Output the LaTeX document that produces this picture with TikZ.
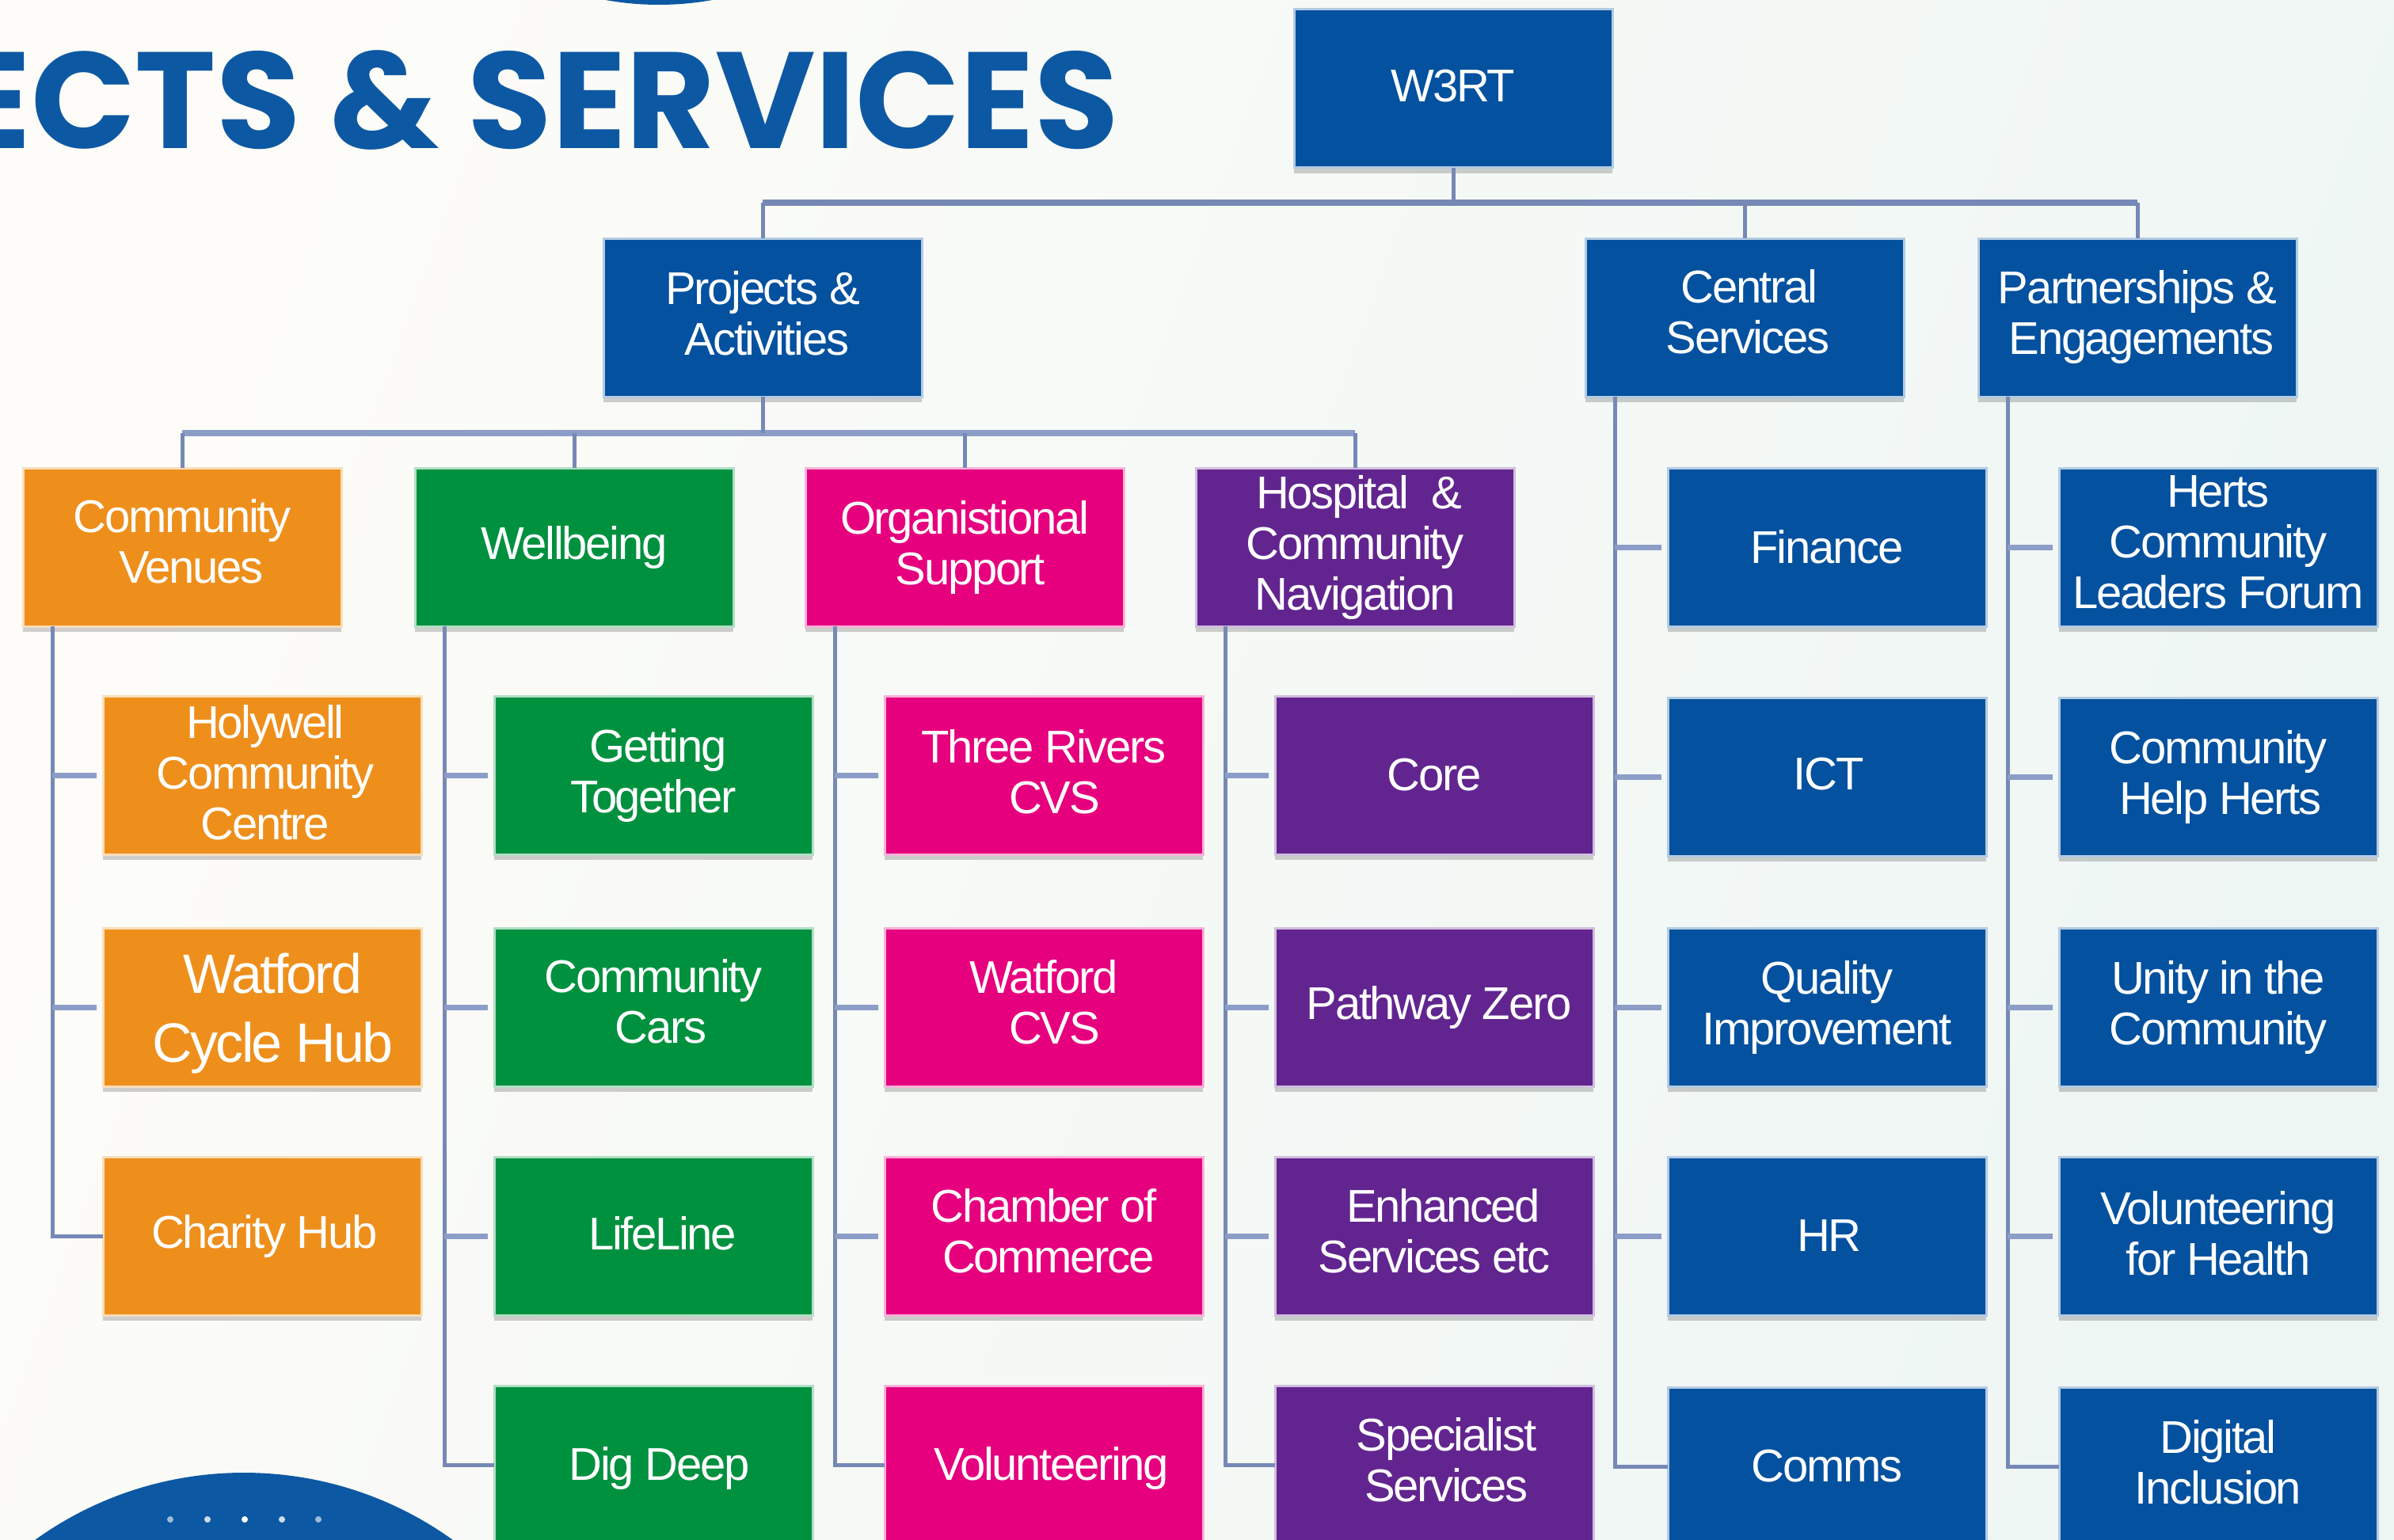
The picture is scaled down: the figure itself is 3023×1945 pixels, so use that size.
\documentclass[tikz,border=0pt]{standalone}
\usepackage{fontspec}
\setmainfont{Liberation Sans}[LetterSpace=-4]
\newfontfamily\titlefont{Poppins}
\usetikzlibrary{shadows}

\definecolor{titleblue}{HTML}{0D58A3}
\definecolor{boxblue}{HTML}{03519F}
\definecolor{boxorange}{HTML}{EE8F1C}
\definecolor{boxgreen}{HTML}{00913F}
\definecolor{boxpink}{HTML}{E6007E}
\definecolor{boxpurple}{HTML}{62258F}
\definecolor{linkblue}{HTML}{7688B5}
\definecolor{branchblue}{HTML}{8C9DC8}
\definecolor{pagewarm}{HTML}{FDFCF8}
\definecolor{pagecool}{HTML}{EEF6F4}

\newcommand{\nudge}[1]{\hspace*{#1pt}}

\tikzset{
  box/.style={rectangle, minimum width=402, minimum height=200, inner sep=0, outer sep=0,
    align=center, text=white, line width=3pt, font=\fontsize{58}{64}\selectfont,
    drop shadow={shadow xshift=0pt, shadow yshift=-7pt, opacity=0.18, fill=black}},
  bluebox/.style={box, fill=boxblue, draw=boxblue!30!white},
  orangebox/.style={box, fill=boxorange, draw=boxorange!30!white},
  greenbox/.style={box, fill=boxgreen, draw=boxgreen!30!white},
  pinkbox/.style={box, fill=boxpink, draw=boxpink!30!white},
  purplebox/.style={box, fill=boxpurple, draw=boxpurple!30!white},
  up/.style={execute at end node={\rule[-#1pt]{0pt}{#1pt}}},
  down/.style={execute at begin node={\rule{0pt}{#1pt}}},
  link/.style={draw=linkblue, line width=5pt},
  bus/.style={draw=linkblue, line width=8pt},
  branch/.style={draw=branchblue, line width=7pt, shorten >=8pt}
}

\begin{document}
\begin{tikzpicture}[x=1pt, y=-1pt]
  \useasboundingbox (0, 0) rectangle (3023, 1945);
  \clip (0, 0) rectangle (3023, 1945);
  \shade[left color=pagewarm, right color=pagecool, shading angle=70] (0, 0) rectangle (3023, 1945);

  % blue shapes on the page edge
  \fill[titleblue] (832, -371) circle (377);
  \fill[titleblue] (308, 2312) circle (452);
  \fill[white, opacity=0.6] (215, 1919) circle (4);
  \fill[white, opacity=0.8] (262, 1919) circle (4);
  \fill[white] (309, 1919) circle (4);
  \fill[white, opacity=0.8] (356, 1919) circle (4);
  \fill[white, opacity=0.6] (402, 1919) circle (4);

  \node[anchor=base east, text=titleblue, inner sep=0, font=\titlefont\bfseries\fontsize{173}{173}\selectfont]
    (title) at (1413, 188) {ECTS \& SERVICES};

  % top of the tree
  \node[bluebox, up=8] (w3rt) at (1835, 112) {W3RT};
  \node[bluebox, up=12] (projects) at (963, 401) {Projects \&\\\nudge{10}Activities};
  \node[bluebox, up=15] (central) at (2203, 401) {\nudge{12}Central\\\nudge{8}Services};
  \node[bluebox] (partners) at (2699, 401) {Partnerships \&\\\nudge{10}Engagements};

  % second row
  \node[orangebox, up=15] (venues) at (230, 691) {Community\\\nudge{23}Venues};
  \node[greenbox] (wellbeing) at (725, 691) {Wellbeing};
  \node[pinkbox] (orgsupport) at (1218, 691) {Organistional\\\nudge{15}Support};
  \node[purplebox] (navigation) at (1711, 691) {\nudge{10}Hospital \ \&\\Community\\Navigation};

  % under community venues
  \node[orangebox, up=8] (holywell) at (331, 979) {\nudge{8}Holywell\\\nudge{8}Community\\\nudge{8}Centre};
  \node[orangebox, font=\fontsize{70}{87}\selectfont] (cyclehub) at (331, 1272) {\nudge{27}\rule{0pt}{67pt}Watford\\\nudge{27}Cycle Hub};
  \node[orangebox] (charityhub) at (331, 1561) {\nudge{6}Charity Hub};

  % under wellbeing
  \node[greenbox] (together) at (825, 979) {\nudge{12}Getting\\Together};
  \node[greenbox, up=15] (cars) at (825, 1272) {Community\\\nudge{19}Cars};
  \node[greenbox, up=8] (lifeline) at (825, 1561) {\nudge{23}LifeLine};
  \node[greenbox, down=50] (digdeep) at (825, 1850) {\nudge{15}Dig Deep};

  % under organistional support
  \node[pinkbox, up=10] (threerivers) at (1318, 979) {Three Rivers\\\nudge{27}CVS};
  \node[pinkbox, up=14] (watfordcvs) at (1318, 1272) {Watford\\\nudge{27}CVS};
  \node[pinkbox, up=14] (chamber) at (1318, 1561) {Chamber of\\\nudge{12}Commerce};
  \node[pinkbox, down=50] (volunteering) at (1318, 1850) {\nudge{19}Volunteering};

  % under hospital and community navigation
  \node[purplebox] (core) at (1811, 979) {Core};
  \node[purplebox] (pathway) at (1811, 1272) {\nudge{12}Pathway Zero};
  \node[purplebox, up=14] (enhanced) at (1811, 1561) {\nudge{23}Enhanced\\Services etc};
  \node[purplebox, up=14] (specialist) at (1811, 1850) {\nudge{31}Specialist\\\nudge{31}Services};

  % under central services
  \node[bluebox] (finance) at (2307, 691) {Finance};
  \node[bluebox, up=8] (ict) at (2307, 981) {\nudge{4}ICT};
  \node[bluebox] (quality) at (2307, 1272) {Quality\\Improvement};
  \node[bluebox] (hr) at (2307, 1561) {\nudge{6}HR};
  \node[bluebox] (comms) at (2307, 1852) {Comms};

  % under partnerships
  \node[bluebox, up=12] (leaders) at (2801, 691) {Herts\\Community\\Leaders Forum};
  \node[bluebox] (helpherts) at (2801, 981) {Community\\\nudge{6}Help Herts};
  \node[bluebox] (unity) at (2801, 1272) {Unity in the\\Community};
  \node[bluebox, up=8] (health) at (2801, 1561) {Volunteering\\for Health};
  \node[bluebox, up=12] (digital) at (2801, 1852) {Digital\\Inclusion};

  % connectors, top of the tree
  \coordinate (topbus) at (1835, 256);
  \coordinate (midbus) at (963, 547);
  \draw[bus] (projects.north |- topbus) -- (partners.north |- topbus);
  \draw[link] (w3rt.south) -- (topbus);
  \draw[link] (projects.north |- topbus) -- (projects.north);
  \draw[link] (central.north |- topbus) -- (central.north);
  \draw[link] (partners.north |- topbus) -- (partners.north);

  \draw[bus, branchblue] (venues.north |- midbus) -- (navigation.north |- midbus);
  \draw[link] (projects.south) -- (midbus);
  \draw[link] (venues.north |- midbus) -- (venues.north);
  \draw[link] (wellbeing.north |- midbus) -- (wellbeing.north);
  \draw[link] (orgsupport.north |- midbus) -- (orgsupport.north);
  \draw[link] (navigation.north |- midbus) -- (navigation.north);

  % trunks and branches
  \draw[link] ([xshift=37]venues.south west) |- (charityhub.west);
  \draw[branch] ([xshift=37]venues.south west |- holywell.west) -- (holywell.west);
  \draw[branch] ([xshift=37]venues.south west |- cyclehub.west) -- (cyclehub.west);

  \draw[link] ([xshift=37]wellbeing.south west) |- (digdeep.west);
  \draw[branch] ([xshift=37]wellbeing.south west |- together.west) -- (together.west);
  \draw[branch] ([xshift=37]wellbeing.south west |- cars.west) -- (cars.west);
  \draw[branch] ([xshift=37]wellbeing.south west |- lifeline.west) -- (lifeline.west);

  \draw[link] ([xshift=37]orgsupport.south west) |- (volunteering.west);
  \draw[branch] ([xshift=37]orgsupport.south west |- threerivers.west) -- (threerivers.west);
  \draw[branch] ([xshift=37]orgsupport.south west |- watfordcvs.west) -- (watfordcvs.west);
  \draw[branch] ([xshift=37]orgsupport.south west |- chamber.west) -- (chamber.west);

  \draw[link] ([xshift=37]navigation.south west) |- (specialist.west);
  \draw[branch] ([xshift=37]navigation.south west |- core.west) -- (core.west);
  \draw[branch] ([xshift=37]navigation.south west |- pathway.west) -- (pathway.west);
  \draw[branch] ([xshift=37]navigation.south west |- enhanced.west) -- (enhanced.west);

  \draw[link] ([xshift=37]central.south west) |- (comms.west);
  \draw[branch] ([xshift=37]central.south west |- finance.west) -- (finance.west);
  \draw[branch] ([xshift=37]central.south west |- ict.west) -- (ict.west);
  \draw[branch] ([xshift=37]central.south west |- quality.west) -- (quality.west);
  \draw[branch] ([xshift=37]central.south west |- hr.west) -- (hr.west);

  \draw[link] ([xshift=37]partners.south west) |- (digital.west);
  \draw[branch] ([xshift=37]partners.south west |- leaders.west) -- (leaders.west);
  \draw[branch] ([xshift=37]partners.south west |- helpherts.west) -- (helpherts.west);
  \draw[branch] ([xshift=37]partners.south west |- unity.west) -- (unity.west);
  \draw[branch] ([xshift=37]partners.south west |- health.west) -- (health.west);
\end{tikzpicture}
\end{document}
